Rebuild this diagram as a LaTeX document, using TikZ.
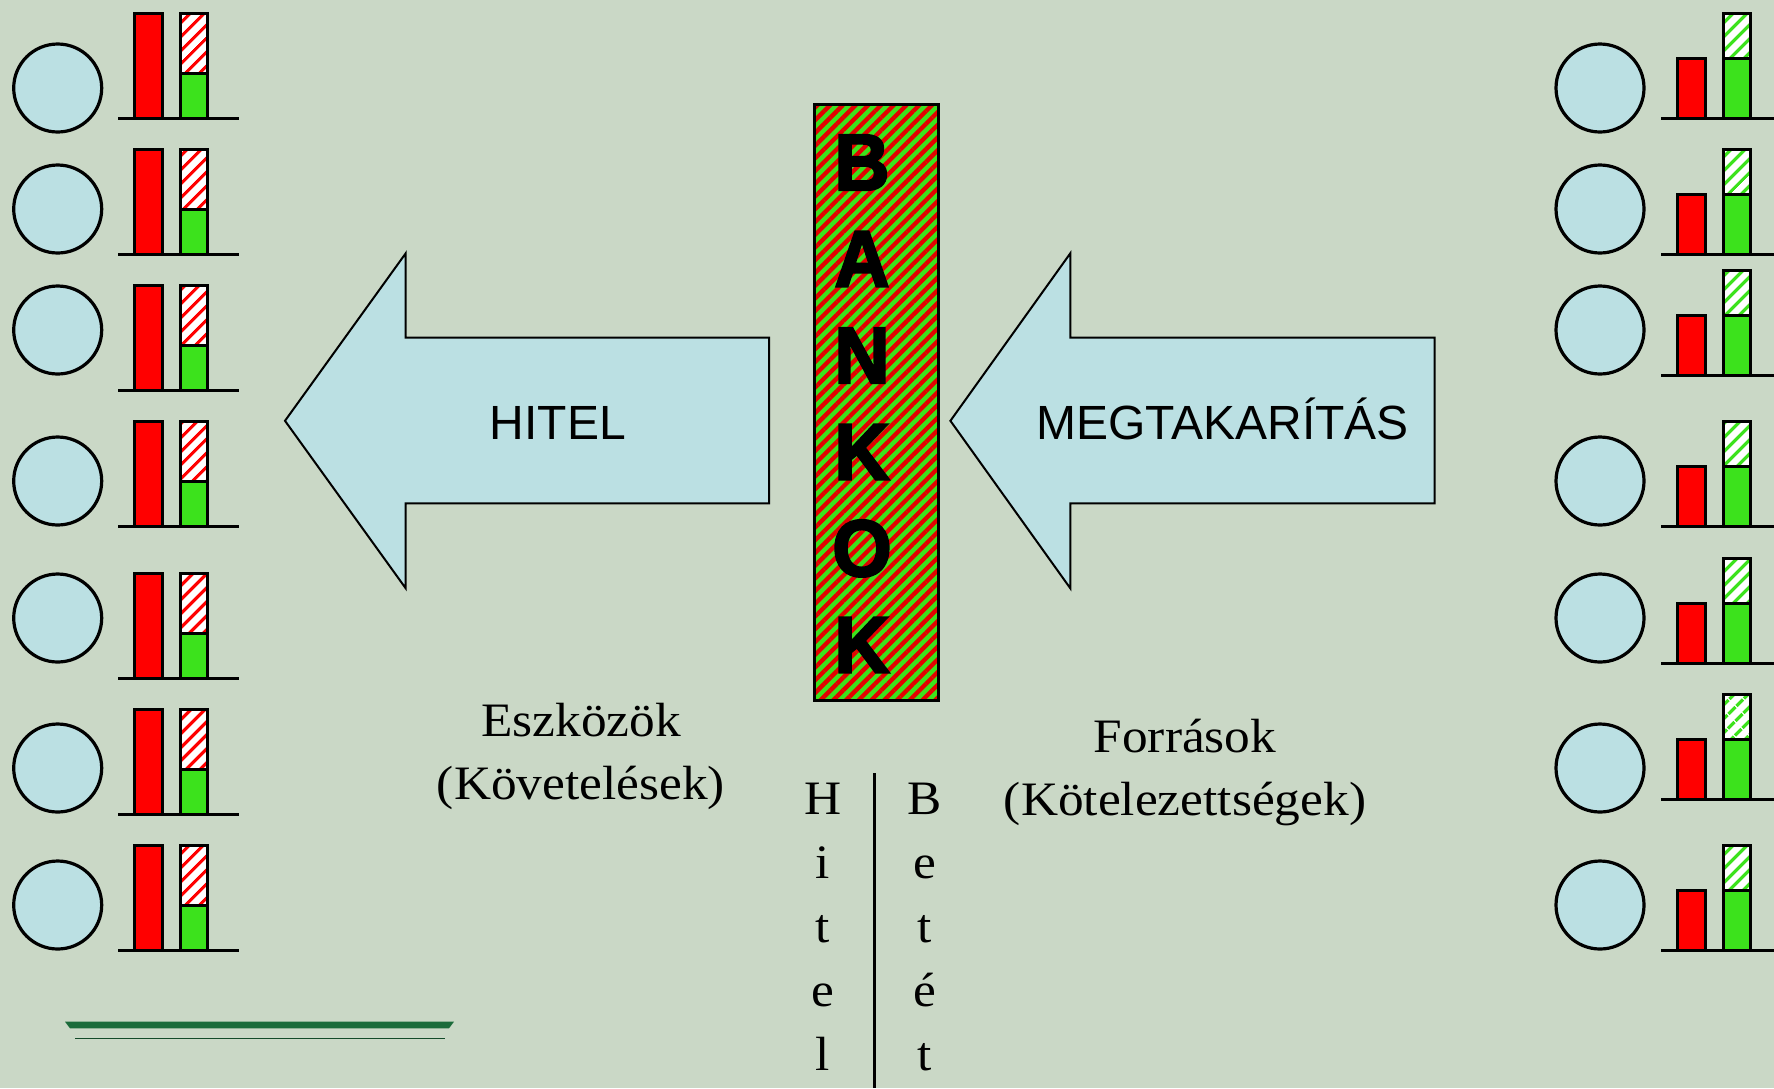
\documentclass[tikz,border=0pt]{standalone}
\usepackage{fontspec}
\setmainfont{Liberation Serif}[FakeStretch=1.07]
\newfontfamily\sansf{Liberation Sans}
\newfontfamily\bankf{Liberation Sans}[FakeStretch=0.95,FakeBold=3]
\usetikzlibrary{patterns.meta}
\definecolor{bg}{HTML}{CAD8C6}
\definecolor{lblue}{HTML}{BBE0E3}
\definecolor{bgreen}{HTML}{3CE21C}
\definecolor{dgreen}{HTML}{1B6B3A}
\begin{document}
\begin{tikzpicture}[x=1pt,y=-1pt,
  person/.style={circle,draw=black,line width=3.2pt,fill=lblue,minimum size=88pt,inner sep=0pt},
  bar/.style={draw=black,line width=3pt},
  axisline/.style={line width=3pt},
  redhatch/.style={pattern={Lines[angle=45,distance=10.5pt,line width=3.5pt]},pattern color=red},
  greenhatch/.style={pattern={Lines[angle=45,distance=10.5pt,line width=3.5pt]},pattern color=bgreen},
  bankhatch/.style={pattern={Lines[angle=45,distance=9pt,line width=4.3pt]},pattern color=red!90!black},
  bigarrow/.style={draw=black,line width=2pt,fill=lblue,line join=miter},
  arrowtext/.style={font=\sansf\fontsize{48}{58}\selectfont,anchor=base,inner sep=0pt},
  sertext/.style={font=\fontsize{48}{58}\selectfont,anchor=base,inner sep=0pt},
  bankletter/.style={font=\bankf\bfseries\fontsize{80}{96}\selectfont,anchor=base,inner sep=0pt},
]
\fill[bg] (0,0) rectangle (1774,1088);
\useasboundingbox (0,0) rectangle (1774,1088);

% left group
\foreach \i/\cy/\b in {1/88/118,2/209/254,3/330/390,4/481/526,5/618/678,6/768/814,7/905/950}{
  \node[person] (L\i) at (57.7,\cy) {};
  \draw[bar,fill=red] (134.5,\b) rectangle (162.5,\b-104.5);
  \fill[white] (180.5,\b-45) rectangle (207.5,\b-104.5);
  \fill[redhatch] (180.5,\b-45) rectangle (207.5,\b-104.5);
  \draw[bar] (180.5,\b-45) rectangle (207.5,\b-104.5);
  \draw[bar,fill=bgreen] (180.5,\b) rectangle (207.5,\b-45);
  \draw[axisline] (118,\b) -- (239,\b);
}

% right group
\foreach \i/\cy/\b in {1/88/118,2/209/254,3/330/375,4/481/526,5/618/663,6/768/799,7/905/950}{
  \node[person] (R\i) at (1600,\cy) {};
  \draw[bar,fill=red] (1677.5,\b) rectangle (1705.2,\b-59.5);
  \fill[white] (1723.2,\b-59.5) rectangle (1750.2,\b-104.5);
  \fill[greenhatch] (1723.2,\b-59.5) rectangle (1750.2,\b-104.5);
  \draw[bar] (1723.2,\b-59.5) rectangle (1750.2,\b-104.5);
  \draw[bar,fill=bgreen] (1723.2,\b) rectangle (1750.2,\b-59.5);
  \draw[axisline] (1661,\b) -- (1774,\b);
}

% arrows
\draw[bigarrow] (285,420.8) -- (405.7,253.3) -- (405.7,337.7) -- (769,337.7)
  -- (769,503.3) -- (405.7,503.3) -- (405.7,588.3) -- cycle;
\node[arrowtext] (hitel) at (558,439.3) {HITEL};
\draw[bigarrow] (950.4,420.8) -- (1070.3,253.3) -- (1070.3,337.7) -- (1434.6,337.7)
  -- (1434.6,503.3) -- (1070.3,503.3) -- (1070.3,588.3) -- cycle;
\node[arrowtext] (megt) at (1222.5,439.3) {MEGTAKARÍTÁS};

% BANKOK column
\fill[bgreen] (814.2,104.2) rectangle (938.5,700);
\fill[bankhatch] (814.2,104.2) rectangle (938.5,700);
\draw[line width=3pt] (814.2,104.2) rectangle (938.5,700);
\foreach \l/\y [count=\k] in {B/190,A/286.5,N/383,K/479.5,O/576,K/672.5}{
  \node[bankletter] (bank\k) at (862,\y) {\l};
}

% lower texts
\node[sertext] (eszk) at (581,736) {Eszközök};
\node[sertext] (kovet) at (581,799) {(Követelések)};
\node[sertext] (forr) at (1185,752) {Források};
\node[sertext] (kotel) at (1185,815) {(Kötelezettségek)};

% Hitel / Betet columns
\coordinate (vtop) at (874.5,773);
\coordinate (vbot) at (874.5,1088);
\draw[line width=2.5pt] (vtop) -- (vbot);
\foreach \l/\y [count=\k] in {H/814,i/878,t/942.7,e/1006.7,l/1070}{
  \node[sertext] (hit\k) at (823,\y) {\l};
}
\foreach \l/\y [count=\k] in {B/814,e/878,t/942.7,é/1006.7,t/1070}{
  \node[sertext] (bet\k) at (925,\y) {\l};
}

% bottom decoration
\fill[dgreen] (65,1021.7) -- (454,1021.7) -- (449,1028.3) -- (70,1028.3) -- cycle;
\draw[line width=1.5pt,draw=dgreen!70!black] (75,1038.3) -- (445,1038.3);
\end{tikzpicture}
\end{document}
